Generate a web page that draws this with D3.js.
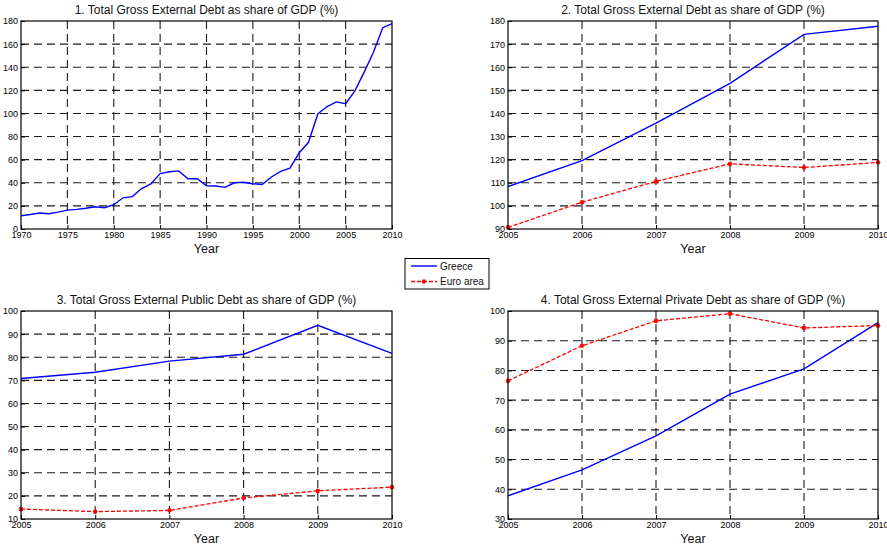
<!DOCTYPE html>
<html>
<head>
<meta charset="utf-8">
<script src="https://cdn.jsdelivr.net/npm/d3@7"></script>
<style>
  html, body { margin: 0; padding: 0; background: #fff; }
  svg { display: block; font-family: "Liberation Sans", Arial, sans-serif; }
</style>
</head>
<body>
<svg id="chart" width="887" height="546"></svg>
<script>
// Greece, total gross external debt (% of GDP), 1970–2010
const yearsLong = [1970,1971,1972,1973,1974,1975,1976,1977,1978,1979,
                   1980,1981,1982,1983,1984,1985,1986,1987,1988,1989,
                   1990,1991,1992,1993,1994,1995,1996,1997,1998,1999,
                   2000,2001,2002,2003,2004,2005,2006,2007,2008,2009,2010];
const greeceTotalLong = [11.5,12.5,13.8,13.2,14.6,16.3,17.0,18.0,19.3,18.4,
                         21.0,27.0,28.0,35.0,39.0,48.0,49.5,50.3,43.5,43.5,
                         37.4,37.2,36.0,40.0,40.5,39.2,38.5,45.0,49.8,52.6,
                         66.0,75.0,99.5,106.0,110.0,108.4,119.6,135.8,153.0,174.2,177.7];

// 2005–2010 comparison
const yearsShort = [2005,2006,2007,2008,2009,2010];
const greeceTotal  = [108.4,119.6,135.8,153.0,174.2,177.7];
const euroTotal    = [90.7,101.6,110.6,118.2,116.6,118.8];
const greecePublic = [70.8,73.5,78.3,81.3,93.8,81.7];
const euroPublic   = [14.3,13.2,13.7,19.1,22.2,23.8];
const greecePrivate = [37.8,46.5,58.0,72.0,80.5,96.1];
const euroPrivate   = [76.5,88.3,96.7,99.1,94.3,95.1];

// Axis ticks
const xTicksLong = [1970,1975,1980,1985,1990,1995,2000,2005,2010];
const xTicksShort = [2005,2006,2007,2008,2009,2010];
const yTicks1 = [0,20,40,60,80,100,120,140,160,180];
const yTicks2 = [90,100,110,120,130,140,150,160,170,180];
const yTicks3 = [10,20,30,40,50,60,70,80,90,100];
const yTicks4 = [30,40,50,60,70,80,90,100];

const titles = [
  "1. Total Gross External Debt as share of GDP (%)",
  "2. Total Gross External Debt as share of GDP (%)",
  "3. Total Gross External Public Debt as share of GDP (%)",
  "4. Total Gross External Private Debt as share of GDP (%)"
];
const seriesNames = ["Greece", "Euro area"];

const svg = d3.select("#chart");

const panels = [
  { box: [21, 21, 392, 229], title: titles[0], x: yearsLong, xTicks: xTicksLong, yTicks: yTicks1,
    lines: [{ v: greeceTotalLong, kind: 0 }] },
  { box: [508, 21, 878, 229], title: titles[1], x: yearsShort, xTicks: xTicksShort, yTicks: yTicks2,
    lines: [{ v: greeceTotal, kind: 0 }, { v: euroTotal, kind: 1 }] },
  { box: [21, 311, 392, 519], title: titles[2], x: yearsShort, xTicks: xTicksShort, yTicks: yTicks3,
    lines: [{ v: greecePublic, kind: 0 }, { v: euroPublic, kind: 1 }] },
  { box: [508, 311, 878, 519], title: titles[3], x: yearsShort, xTicks: xTicksShort, yTicks: yTicks4,
    lines: [{ v: greecePrivate, kind: 0 }, { v: euroPrivate, kind: 1 }] }
];

// asterisk marker
function asterisk(r) {
  const p = d3.path();
  for (let k = 0; k < 4; k++) {
    const a = k * Math.PI / 4;
    p.moveTo(-r * Math.cos(a), -r * Math.sin(a));
    p.lineTo(r * Math.cos(a), r * Math.sin(a));
  }
  return p.toString();
}

panels.forEach(P => {
  const [x0, y0, x1, y1] = P.box;
  const xs = d3.scaleLinear().domain(d3.extent(P.xTicks)).range([x0, x1]);
  const ys = d3.scaleLinear().domain(d3.extent(P.yTicks)).range([y1, y0]);
  const g = svg.append("g");

  // grid
  g.append("g").selectAll("line").data(P.xTicks.slice(1, -1)).join("line")
    .attr("x1", d => xs(d)).attr("x2", d => xs(d)).attr("y1", y0).attr("y2", y1)
    .attr("stroke", "#1a1a1a").attr("stroke-width", 1.1).attr("stroke-dasharray", "8,5");
  g.append("g").selectAll("line").data(P.yTicks.slice(1, -1)).join("line")
    .attr("x1", x0).attr("x2", x1).attr("y1", d => ys(d)).attr("y2", d => ys(d))
    .attr("stroke", "#1a1a1a").attr("stroke-width", 1.1).attr("stroke-dasharray", "8,5");

  // axes with inward ticks
  const ax = g.append("g").attr("transform", `translate(0,${y1})`)
    .call(d3.axisBottom(xs).tickValues(P.xTicks).tickFormat(d3.format("d")).tickSizeInner(-4).tickSizeOuter(0).tickPadding(4));
  const ay = g.append("g").attr("transform", `translate(${x0},0)`)
    .call(d3.axisLeft(ys).tickValues(P.yTicks).tickFormat(d3.format("d")).tickSizeInner(-4).tickSizeOuter(0).tickPadding(3));
  [ax, ay].forEach(a => {
    a.select(".domain").remove();
    a.selectAll("text").attr("font-size", 9).attr("fill", "#000")
      .attr("font-family", "'Liberation Sans', Arial, sans-serif");
    a.selectAll("line").attr("stroke", "#000");
  });
  ax.selectAll("text").attr("dy", "0.6em");

  // data lines
  P.lines.forEach(L => {
    const pts = P.x.map((yr, i) => [xs(yr), ys(L.v[i])]);
    const path = g.append("path").attr("d", d3.line()(pts)).attr("fill", "none");
    if (L.kind === 0) {
      path.attr("stroke", "#0000ff").attr("stroke-width", 1.4);
    } else {
      path.attr("stroke", "#ff0000").attr("stroke-width", 1.3).attr("stroke-dasharray", "4,2");
      g.append("g").selectAll("path").data(pts).join("path")
        .attr("transform", d => `translate(${d[0]},${d[1]})`)
        .attr("d", asterisk(2.4)).attr("stroke", "#ff0000").attr("stroke-width", 1.1).attr("fill", "none");
    }
  });

  // frame
  g.append("rect").attr("x", x0).attr("y", y0).attr("width", x1 - x0).attr("height", y1 - y0)
    .attr("fill", "none").attr("stroke", "#000").attr("stroke-width", 1.2);

  // title and x label
  g.append("text").attr("x", (x0 + x1) / 2).attr("y", y0 - 7).attr("text-anchor", "middle")
    .attr("font-size", 12).attr("fill", "#111").text(P.title);
  g.append("text").attr("x", (x0 + x1) / 2).attr("y", y1 + 24).attr("text-anchor", "middle")
    .attr("font-size", 12.5).attr("fill", "#111").text("Year");
});

// legend
const lg = svg.append("g");
lg.append("rect").attr("x", 405).attr("y", 258.5).attr("width", 84).attr("height", 30.5)
  .attr("fill", "#fff").attr("stroke", "#000").attr("stroke-width", 1);
const legendRows = [{ name: seriesNames[0], kind: 0, y: 266 }, { name: seriesNames[1], kind: 1, y: 281.5 }];
legendRows.forEach(r => {
  const ln = lg.append("line").attr("x1", 411).attr("x2", 437).attr("y1", r.y).attr("y2", r.y);
  if (r.kind === 0) ln.attr("stroke", "#0000ff").attr("stroke-width", 1.4);
  else {
    ln.attr("stroke", "#ff0000").attr("stroke-width", 1.3).attr("stroke-dasharray", "4,2");
    lg.append("path").attr("transform", `translate(424,${r.y})`).attr("d", asterisk(2.4))
      .attr("stroke", "#ff0000").attr("stroke-width", 1.1).attr("fill", "none");
  }
  lg.append("text").attr("x", 440).attr("y", r.y).attr("dy", "0.35em")
    .attr("font-size", 10).attr("fill", "#111").text(r.name);
});
</script>
</body>
</html>
